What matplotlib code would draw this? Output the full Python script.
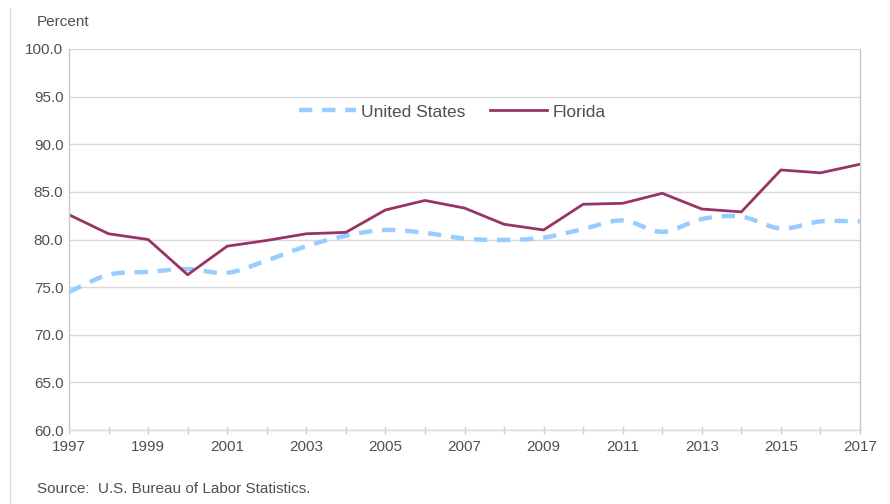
import numpy as np
import matplotlib
matplotlib.use("Agg")
import matplotlib.pyplot as plt
from matplotlib.lines import Line2D

plt.rcParams['font.family'] = ['Liberation Sans', 'DejaVu Sans']

## Data
years = list(range(1997, 2018))
us = [74.5, 76.3, 76.6, 76.9, 76.5, 77.8, 79.3, 80.4, 81.0, 80.7, 80.1,
      79.95, 80.2, 81.1, 82.0, 80.8, 82.15, 82.4, 81.15, 81.9, 81.9]
florida = [82.6, 80.6, 80.0, 76.3, 79.3, 79.9, 80.6, 80.75, 83.1, 84.1, 83.3,
           81.6, 81.0, 83.7, 83.8, 84.85, 83.2, 82.9, 87.3, 87.0, 87.9]
y_ticks = np.arange(60, 100.1, 5)


def smooth(x, y, n=20):
    # catmull-rom style curve like the spreadsheet's smoothed line
    x = np.asarray(x, float)
    y = np.asarray(y, float)
    px = np.concatenate([[2 * x[0] - x[1]], x, [2 * x[-1] - x[-2]]])
    py = np.concatenate([[2 * y[0] - y[1]], y, [2 * y[-1] - y[-2]]])
    xs, ys = [], []
    for i in range(1, len(px) - 2):
        t = np.linspace(0, 1, n, endpoint=False)
        for arr, out in ((px, xs), (py, ys)):
            p0, p1, p2, p3 = arr[i - 1], arr[i], arr[i + 1], arr[i + 2]
            out.extend(0.5 * ((2 * p1) + (-p0 + p2) * t +
                              (2 * p0 - 5 * p1 + 4 * p2 - p3) * t ** 2 +
                              (-p0 + 3 * p1 - 3 * p2 + p3) * t ** 3))
    xs.append(x[-1])
    ys.append(y[-1])
    return np.array(xs), np.array(ys)


fig = plt.figure(figsize=(8.9, 5.04), dpi=100)
ax = fig.add_axes([69 / 890, 1 - 430 / 504, (860 - 69) / 890, (430 - 49) / 504])

us_col = '#99CCFF'
fl_col = '#993366'
txt_col = '#505050'

sx, sy = smooth(years, us)
ax.plot(sx, sy, color=us_col, lw=3.2, dashes=(3, 2.2), solid_capstyle='butt')
ax.plot(years, florida, color=fl_col, lw=2)

ax.set_xlim(1997, 2017)
ax.set_ylim(60, 100)
ax.set_yticks(y_ticks)
ax.set_yticklabels([f'{v:.1f}' for v in y_ticks])
ax.set_xticks(years)
ax.set_xticklabels([str(y) if (y - 1997) % 2 == 0 else '' for y in years])
ax.tick_params(axis='x', direction='inout', length=6, color='#D0D0D0', width=1,
               labelsize=11, labelcolor=txt_col, pad=4)
ax.tick_params(axis='y', length=0, labelsize=11, labelcolor=txt_col, pad=4)

ax.yaxis.grid(True, color='#D9D9D9', lw=1)
ax.set_axisbelow(True)
for s in ['left', 'right', 'bottom']:
    ax.spines[s].set_color('#C8C8C8')
    ax.spines[s].set_linewidth(1)
ax.spines['bottom'].set_color('#D9D9D9')
ax.spines['top'].set_visible(False)

handles = [Line2D([], [], color=us_col, lw=3.2, dashes=(3, 2.2)),
           Line2D([], [], color=fl_col, lw=2)]
ax.legend(handles, ['United States', 'Florida'], loc='center',
          bbox_to_anchor=(452 / 890, 1 - 112 / 504), bbox_transform=fig.transFigure,
          ncol=2, frameon=False, fontsize=12.5, handlelength=3.3,
          columnspacing=1.4, handletextpad=0.3, labelcolor=txt_col)

fig.text(37 / 890, 1 - 22 / 504, 'Percent', fontsize=11, color=txt_col, va='center')
fig.text(37 / 890, 1 - 489 / 504, 'Source:  U.S. Bureau of Labor Statistics.',
         fontsize=11, color=txt_col, va='center')
fig.add_artist(Line2D([10 / 890, 10 / 890], [0, 1 - 8 / 504], color='#D9D9D9',
                      lw=1, transform=fig.transFigure))

fig.savefig('out.png', dpi=100)
